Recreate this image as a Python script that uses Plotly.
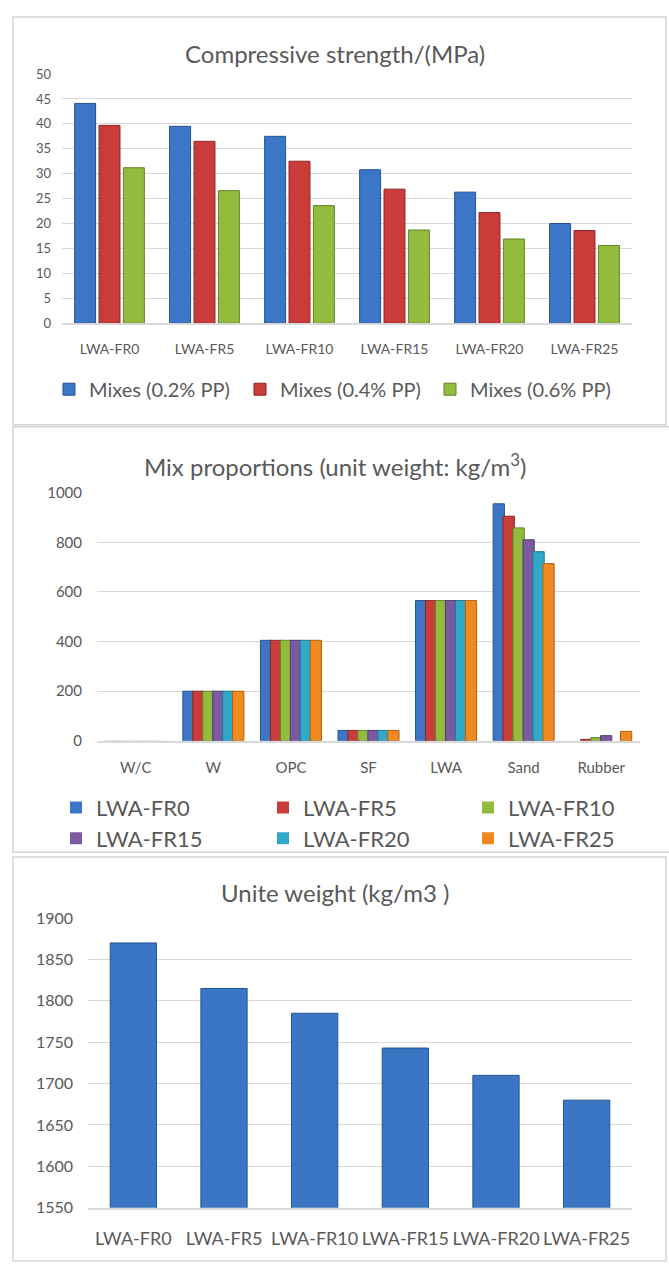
import plotly.graph_objects as go

# ---- Compressive strength (MPa) ----
mixes = ["LWA-FR0", "LWA-FR5", "LWA-FR10", "LWA-FR15", "LWA-FR20", "LWA-FR25"]
pp_series = ["Mixes (0.2% PP)", "Mixes (0.4% PP)", "Mixes (0.6% PP)"]
strength_pp02 = [44.1, 39.5, 37.5, 30.8, 26.3, 20.0]
strength_pp04 = [39.7, 36.5, 32.5, 26.9, 22.2, 18.6]
strength_pp06 = [31.2, 26.6, 23.6, 18.7, 16.9, 15.6]

# ---- Mix proportions (kg/m3) ----
components = ["W/C", "W", "OPC", "SF", "LWA", "Sand", "Rubber"]
prop_fr0 = [0.5, 200, 405, 42, 565, 955, 0]
prop_fr5 = [0.5, 200, 405, 42, 565, 905, 6]
prop_fr10 = [0.5, 200, 405, 42, 565, 858, 13]
prop_fr15 = [0.5, 200, 405, 42, 565, 810, 21]
prop_fr20 = [0.5, 200, 405, 42, 565, 762, 0]
prop_fr25 = [0.5, 200, 405, 42, 565, 714, 38]

# ---- Unit weight (kg/m3) ----
unit_weight = [1870, 1815, 1785, 1743, 1710, 1680]

W, H = 669, 1264
FONT = "Lato"
TXT = "#595959"
GRID = "#d9d9d9"


def px_x(v):
    return v / W


def px_y(v):
    return 1 - v / H


fig = go.Figure()
legends = {}

# Panel 1: one single-entry legend per series, laid out in a row
pp_colors = [("#3b77c6", "#25528f"), ("#c93c39", "#8e2624"), ("#93bc3f", "#62822a")]
pp_legend_left = [49, 240, 430]
for i, (name, vals, (fc, lc)) in enumerate(
        zip(pp_series, [strength_pp02, strength_pp04, strength_pp06], pp_colors)):
    key = "legend" if i == 0 else f"legend{i + 1}"
    fig.add_trace(go.Bar(
        x=mixes, y=vals, name=name, xaxis="x", yaxis="y", legend=key,
        marker=dict(color=fc, line=dict(color=lc, width=1)),
    ))
    legends[key] = dict(x=px_x(pp_legend_left[i]), xanchor="left", y=px_y(385), yanchor="middle",
                        font=dict(family=FONT, size=20, color=TXT), bgcolor="rgba(0,0,0,0)")

# Panel 2: 3 x 2 grid of single-entry legends
mix_colors = [("#3b77c6", "#25528f"), ("#c93c39", "#8e2624"), ("#93bc3f", "#62822a"),
              ("#7b5aa0", "#523a70"), ("#2fa9c9", "#1c7790"), ("#f08a20", "#b05e10")]
mix_legend_left = [56, 263, 468]
mix_legend_row = [810, 841]
for i, (name, vals, (fc, lc)) in enumerate(
        zip(mixes, [prop_fr0, prop_fr5, prop_fr10, prop_fr15, prop_fr20, prop_fr25], mix_colors)):
    key = f"legend{i + 4}"
    # no outline on bars too short to be seen (e.g. the W/C ratio)
    outline = [1 if v >= 2 else 0 for v in vals]
    fig.add_trace(go.Bar(
        x=components, y=vals, name=name, xaxis="x2", yaxis="y2", legend=key,
        width=0.145, marker=dict(color=fc, line=dict(color=lc, width=outline)),
    ))
    legends[key] = dict(x=px_x(mix_legend_left[i % 3]), xanchor="left",
                        y=px_y(mix_legend_row[i // 3]), yanchor="middle",
                        font=dict(family=FONT, size=22, color=TXT), bgcolor="rgba(0,0,0,0)")

fig.add_trace(go.Bar(
    x=mixes, y=unit_weight, name="Unite weight", xaxis="x3", yaxis="y3",
    showlegend=False, width=0.51,
    marker=dict(color="#3a76c4", line=dict(color="#24528f", width=1)),
))

fig.update_layout(
    width=W, height=H,
    margin=dict(l=0, r=0, t=0, b=0),
    paper_bgcolor="white", plot_bgcolor="white",
    barmode="group",
    font=dict(family=FONT, color=TXT),
    xaxis=dict(domain=[px_x(62), px_x(632)], anchor="y", showgrid=False,
               showline=True, linecolor=GRID, linewidth=2,
               tickfont=dict(family=FONT, size=14, color=TXT),
               ticks="", ticklabelstandoff=12),
    yaxis=dict(domain=[px_y(318), px_y(65)], anchor="x", range=[0, 50], dtick=5,
               gridcolor=GRID, gridwidth=1, zeroline=False, showline=False,
               tickfont=dict(family=FONT, size=13, color=TXT), ticklabelstandoff=10),
    xaxis2=dict(domain=[px_x(97), px_x(640)], anchor="y2", showgrid=False,
                showline=True, linecolor=GRID, linewidth=2,
                tickfont=dict(family=FONT, size=15, color=TXT),
                ticks="", ticklabelstandoff=12),
    yaxis2=dict(domain=[px_y(742), px_y(490)], anchor="x2", range=[0, 1000], dtick=200,
                gridcolor=GRID, gridwidth=1, zeroline=False, showline=False,
                tickfont=dict(family=FONT, size=15, color=TXT), ticklabelstandoff=14),
    xaxis3=dict(domain=[px_x(88), px_x(632)], anchor="y3", showgrid=False,
                showline=True, linecolor=GRID, linewidth=2,
                tickfont=dict(family=FONT, size=18, color=TXT),
                ticks="", ticklabelstandoff=14),
    yaxis3=dict(domain=[px_y(1216), px_y(922)], anchor="x3", range=[1550, 1900], dtick=50,
                gridcolor=GRID, gridwidth=1, zeroline=False, showline=False,
                tickfont=dict(family=FONT, size=16, color=TXT), ticklabelstandoff=14),
    bargap=0.23, bargroupgap=0.14,
    showlegend=True,
    **legends,
)

# Panel titles
titles = [
    ("Compressive strength/(MPa)", 44, 24),
    ("Mix proportions (unit weight: kg/m<sup>3</sup>)", 462, 24),
    ("Unite weight (kg/m3 )", 896, 24),
]
for text, ypx, size in titles:
    fig.add_annotation(text=text, x=0.5, y=px_y(ypx), xref="paper", yref="paper",
                       xanchor="center", yanchor="middle", showarrow=False,
                       font=dict(family=FONT, size=size, color=TXT))

# Panel frames
frames = [(13, 7, 666, 421), (13, 423, 672, 855), (13, 860, 666, 1270)]
for x0, y0, x1, y1 in frames:
    fig.add_shape(type="rect", xref="paper", yref="paper",
                  x0=px_x(x0), x1=px_x(x1), y0=px_y(y0), y1=px_y(y1),
                  line=dict(color="#d4d4d4", width=1.5), fillcolor="rgba(0,0,0,0)", layer="below")

fig.write_html("out.html")
